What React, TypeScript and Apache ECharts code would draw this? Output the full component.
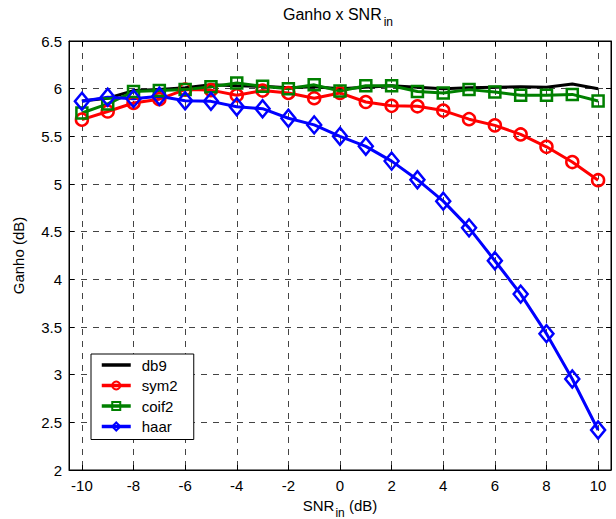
import React, { useEffect, useRef } from "react";
import * as echarts from "echarts";

const xValues = [-10, -9, -8, -7, -6, -5, -4, -3, -2, -1, 0, 1, 2, 3, 4, 5, 6, 7, 8, 9, 10];
const xTickValues = [-10, -8, -6, -4, -2, 0, 2, 4, 6, 8, 10];
const seriesNames = ["db9", "sym2", "coif2", "haar"];
const db9 = [5.87, 5.9, 5.98, 5.99, 6.01, 6.04, 6.03, 6.025, 6.01, 6.02, 6.0, 6.015, 6.03, 6.015, 6.0, 6.01, 6.015, 6.02, 6.015, 6.05, 6.0];
const sym2 = [5.675, 5.76, 5.85, 5.89, 5.99, 5.985, 5.93, 5.98, 5.955, 5.9, 5.955, 5.86, 5.82, 5.815, 5.77, 5.68, 5.615, 5.52, 5.39, 5.23, 5.04];
const coif2 = [5.745, 5.84, 5.97, 5.98, 5.99, 6.02, 6.06, 6.025, 6.0, 6.04, 5.975, 6.03, 6.03, 5.97, 5.955, 5.99, 5.965, 5.93, 5.93, 5.94, 5.87];
const haar = [5.867, 5.91, 5.895, 5.92, 5.874, 5.867, 5.81, 5.79, 5.69, 5.62, 5.5, 5.395, 5.24, 5.045, 4.82, 4.54, 4.195, 3.845, 3.43, 2.955, 2.42];

const FONT = "'Liberation Sans', Arial, Helvetica, sans-serif";

const pairs = (ys: number[]) => xValues.map((x, i) => [x, ys[i]]);

export default function App() {
  const ref = useRef<HTMLDivElement>(null);
  useEffect(() => {
    if (!ref.current) return;
    const chart = echarts.init(ref.current, undefined, { renderer: "svg" });
    const gridLine = { show: true, lineStyle: { color: "#444", width: 1, type: [6, 6] as any } };
    const tickStyle = { show: true, inside: true, length: 5, lineStyle: { color: "#000", width: 1 } };
    const option: any = {
      animation: false,
      backgroundColor: "#fff",
      textStyle: { fontFamily: FONT },
      title: {
        text: "{a|Ganho x SNR}{b|in}",
        left: 283,
        top: 6,
        padding: 0,
        textStyle: {
          fontWeight: "normal",
          rich: {
            a: { fontFamily: FONT, fontSize: 16, fontWeight: "normal", lineHeight: 16, color: "#000", verticalAlign: "top" },
            b: { fontFamily: FONT, fontSize: 12, fontWeight: "normal", lineHeight: 12, color: "#000", verticalAlign: "top", padding: [10, 0, 0, 2] },
          },
        },
      },
      grid: {
        left: 69,
        right: 5,
        top: 41,
        bottom: 49,
        outerBoundsMode: "none",
        containLabel: false,
        show: true,
        borderColor: "#000",
        borderWidth: 1,
        backgroundColor: "#fff",
      },
      legend: {
        data: [
          { name: seriesNames[0], itemStyle: { color: "rgba(0,0,0,0)", borderWidth: 0, opacity: 0 }, lineStyle: { color: "#000", width: 3.5, opacity: 1 } },
          { name: seriesNames[1] },
          { name: seriesNames[2] },
          { name: seriesNames[3] },
        ],
        orient: "vertical",
        left: 91,
        top: 354,
        backgroundColor: "#fff",
        borderColor: "#000",
        borderWidth: 1,
        borderRadius: 0,
        padding: [3, 6, 5, 9],
        itemWidth: 29,
        itemHeight: 10,
        itemGap: 4.5,
        selectedMode: false,
        lineStyle: { width: 3.5 },
        textStyle: { fontFamily: FONT, fontSize: 15, color: "#000", lineHeight: 16, width: 46, padding: [0, 0, 0, 6] },
      },
      xAxis: [
        {
          type: "value",
          min: -10.5,
          max: 10.5,
          position: "bottom",
          axisLine: { show: true, onZero: false, lineStyle: { color: "#000", width: 1 } },
          axisTick: { ...tickStyle, customValues: xTickValues },
          axisLabel: { customValues: xTickValues, color: "#000", fontSize: 15, fontFamily: FONT, margin: 8 },
          splitLine: gridLine,
          name: "{a|SNR}{b|in}{a| (dB)}",
          nameLocation: "middle",
          nameGap: 28,
          nameTextStyle: {
            rich: {
              a: { fontFamily: FONT, fontSize: 15, lineHeight: 15, color: "#000", verticalAlign: "top" },
              b: { fontFamily: FONT, fontSize: 12, lineHeight: 12, color: "#000", verticalAlign: "top", padding: [9, 0, 0, 1] },
            },
          },
        },
        {
          type: "value",
          min: -10.5,
          max: 10.5,
          position: "top",
          axisLine: { show: true, onZero: false, lineStyle: { color: "#000", width: 1 } },
          axisTick: { ...tickStyle, customValues: xTickValues },
          axisLabel: { show: false, customValues: xTickValues },
          splitLine: { show: false },
        },
      ],
      yAxis: [
        {
          type: "value",
          min: 2,
          max: 6.5,
          interval: 0.5,
          position: "left",
          axisLine: { show: true, onZero: false, lineStyle: { color: "#000", width: 1 } },
          axisTick: tickStyle,
          axisLabel: { color: "#000", fontSize: 15, fontFamily: FONT, margin: 7 },
          splitLine: gridLine,
          name: "Ganho (dB)",
          nameLocation: "middle",
          nameGap: 43,
          nameTextStyle: { fontFamily: FONT, fontSize: 15, color: "#000" },
        },
        {
          type: "value",
          min: 2,
          max: 6.5,
          interval: 0.5,
          position: "right",
          axisLine: { show: true, onZero: false, lineStyle: { color: "#000", width: 1 } },
          axisTick: tickStyle,
          axisLabel: { show: false },
          splitLine: { show: false },
        },
      ],
      series: [
        {
          name: seriesNames[0],
          type: "line",
          data: pairs(db9),
          symbol: "none",
          lineStyle: { color: "#000", width: 3 },
          itemStyle: { color: "#000" },
        },
        {
          name: seriesNames[1],
          type: "line",
          data: pairs(sym2),
          symbol: "circle",
          symbolSize: 12,
          lineStyle: { color: "#ff0000", width: 3 },
          itemStyle: { color: "rgba(255,255,255,0)", borderColor: "#ff0000", borderWidth: 2.5 },
        },
        {
          name: seriesNames[2],
          type: "line",
          data: pairs(coif2),
          symbol: "rect",
          symbolSize: 11,
          lineStyle: { color: "#008000", width: 3 },
          itemStyle: { color: "rgba(255,255,255,0)", borderColor: "#008000", borderWidth: 2.5 },
        },
        {
          name: seriesNames[3],
          type: "line",
          data: pairs(haar),
          symbol: "diamond",
          symbolSize: [14, 17],
          lineStyle: { color: "#0000ff", width: 3 },
          itemStyle: { color: "rgba(255,255,255,0)", borderColor: "#0000ff", borderWidth: 2.5 },
        },
      ],
    };
    chart.setOption(option);
    return () => chart.dispose();
  }, []);
  return <div ref={ref} style={{ position: "absolute", left: 0, top: 0, width: 616, height: 519 }} />;
}
